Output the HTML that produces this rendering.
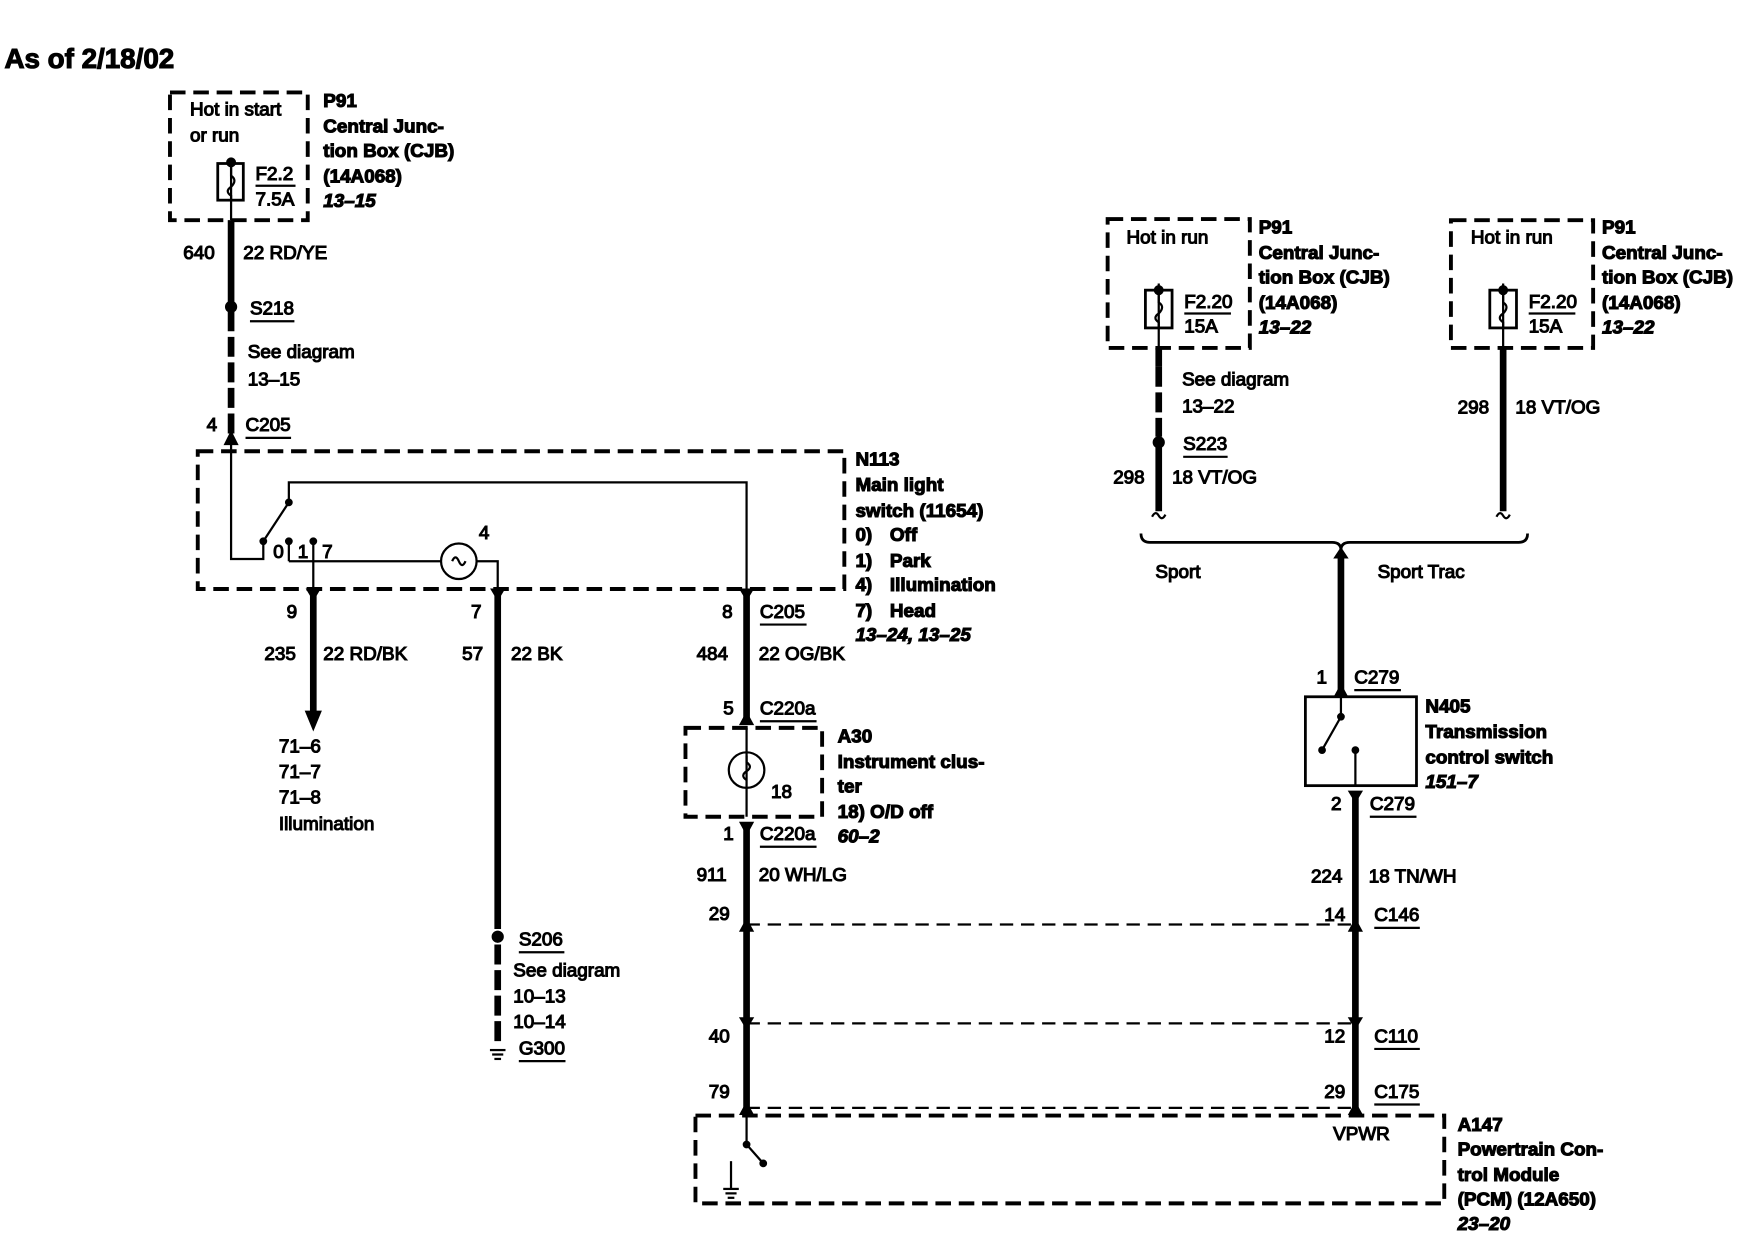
<!DOCTYPE html>
<html><head><meta charset="utf-8"><style>
html,body{margin:0;padding:0;background:#fff;}
svg{display:block;}
text{font-family:"Liberation Sans Narrow","Liberation Sans",sans-serif;font-size:17px;fill:#000;}
.b{font-weight:bold;}
.i{font-weight:bold;font-style:italic;}
</style></head><body>
<svg width="1742" height="1248" viewBox="0 0 1568 1123" xmlns="http://www.w3.org/2000/svg">
<g stroke="#000" fill="none">
<g stroke-width="3.5" stroke-dasharray="14,7">
<rect x="153" y="83" width="124" height="115"/>
<rect x="178" y="406" width="582" height="124"/>
<rect x="617" y="655" width="123" height="80"/>
<rect x="997" y="197" width="128" height="116"/>
<rect x="1306" y="198" width="128" height="115"/>
<rect x="626" y="1004" width="674" height="79"/>
</g>
<g stroke-width="2" stroke-dasharray="12,7">
<line x1="672" y1="832" x2="1220" y2="832"/>
<line x1="672" y1="921" x2="1220" y2="921"/>
<line x1="672" y1="997" x2="1220" y2="997"/>
</g>
<g stroke-width="6">
<line x1="208" y1="198" x2="208" y2="272"/>
<line x1="208" y1="280" x2="208" y2="395" stroke-dasharray="18,5"/>
<line x1="282" y1="530" x2="282" y2="640"/>
<line x1="448" y1="530" x2="448" y2="836"/>
<line x1="448" y1="850" x2="448" y2="938" stroke-dasharray="18,5"/>
<line x1="672" y1="530" x2="672" y2="648"/>
<line x1="672" y1="740" x2="672" y2="1000"/>
<line x1="1043" y1="313" x2="1043" y2="330"/>
<line x1="1043" y1="330" x2="1043" y2="393" stroke-dasharray="18,5"/>
<line x1="1043" y1="402" x2="1043" y2="460"/>
<line x1="1353" y1="313" x2="1353" y2="460"/>
<line x1="1207" y1="497" x2="1207" y2="622"/>
<line x1="1220" y1="712" x2="1220" y2="1000"/>
</g>
<g stroke-width="2">
<line x1="208" y1="143" x2="208" y2="198"/>
<rect x="196" y="147" width="23" height="33" stroke-width="2.5"/>
<path d="M208 150 v8 q6 4 0 10 q-6 4 0 8 v4"/>
<line x1="230" y1="167" x2="266" y2="167"/>
<polyline points="208,395 208,503 237,503 237,487"/>
<line x1="237" y1="487" x2="260" y2="452"/>
<polyline points="260,452 260,434 672,434 672,530"/>
<polyline points="260,505 260,487"/>
<polyline points="282,487 282,530"/>
<line x1="260" y1="505" x2="397" y2="505"/>
<circle cx="413" cy="505" r="16"/>
<path d="M407 505 q3 -7 6 0 q3 7 6 0"/>
<polyline points="429,505 448,505 448,530"/>
<line x1="672" y1="655" x2="672" y2="735"/>
<circle cx="672" cy="693" r="16"/>
<path d="M672 680 v6 q6 4 0 8 q-6 4 0 8"/>
<line x1="1043" y1="255" x2="1043" y2="313"/>
<rect x="1031" y="261" width="24" height="34" stroke-width="2.5"/>
<path d="M1043 264 v8 q6 4 0 10 q-6 4 0 8 v4"/>
<line x1="1066" y1="282" x2="1108" y2="282"/>
<line x1="1353" y1="255" x2="1353" y2="313"/>
<rect x="1341" y="261" width="24" height="34" stroke-width="2.5"/>
<path d="M1353 264 v8 q6 4 0 10 q-6 4 0 8 v4"/>
<line x1="1376" y1="282" x2="1418" y2="282"/>
<rect x="1175" y="627" width="100" height="80" stroke-width="2.5"/>
<polyline points="1207,627 1207,645 1190,675"/>
<polyline points="1220,675 1220,707"/>
<polyline points="672,1000 672,1030 687,1047"/>
<line x1="658" y1="1045" x2="658" y2="1070"/>
<line x1="651" y1="1070" x2="665" y2="1070"/>
<line x1="653" y1="1074" x2="663" y2="1074"/>
<line x1="655" y1="1078" x2="661" y2="1078"/>
<line x1="441" y1="945" x2="455" y2="945"/>
<line x1="443" y1="949" x2="453" y2="949"/>
<line x1="445" y1="953" x2="451" y2="953"/>
<path d="M1027 480 q0 8 8 8 h164 q8 0 8 7 q0 -7 8 -7 h152 q8 0 8 -8" stroke-width="2.5"/>
<line x1="225" y1="289" x2="265" y2="289"/>
<line x1="221" y1="394" x2="262" y2="394"/>
<line x1="684" y1="562" x2="726" y2="562"/>
<line x1="684" y1="649" x2="735" y2="649"/>
<line x1="684" y1="762" x2="735" y2="762"/>
<line x1="467" y1="857" x2="508" y2="857"/>
<line x1="467" y1="955" x2="509" y2="955"/>
<line x1="1065" y1="411" x2="1105" y2="411"/>
<line x1="1219" y1="621" x2="1261" y2="621"/>
<line x1="1233" y1="735" x2="1275" y2="735"/>
<line x1="1237" y1="835" x2="1278" y2="835"/>
<line x1="1237" y1="944" x2="1278" y2="944"/>
<line x1="1237" y1="994" x2="1278" y2="994"/>
<path d="M1037 465 q3 -6 6 -1 q3 5 6 -1"/>
<path d="M1347 465 q3 -6 6 -1 q3 5 6 -1"/>
</g>
<g fill="#000">
<circle cx="208" cy="146" r="4"/>
<circle cx="1043" cy="261" r="4"/>
<circle cx="1353" cy="261" r="4"/>
<circle cx="208" cy="276" r="5"/>
<circle cx="1043" cy="398" r="5"/>
<circle cx="448" cy="843" r="5"/>
<circle cx="237" cy="487" r="3"/><circle cx="260" cy="452" r="3"/>
<circle cx="260" cy="487" r="3"/><circle cx="282" cy="487" r="3"/>
<circle cx="1207" cy="645" r="3"/><circle cx="1190" cy="675" r="3"/><circle cx="1220" cy="675" r="3"/>
<circle cx="672" cy="1030" r="3"/><circle cx="687" cy="1047" r="3"/>
<polygon points="202,400 208,388 214,400"/>
<polygon points="275,640 289,640 282,657"/>
<polygon points="666,652 672,641 678,652"/>
<polygon points="666,740 678,740 672,751"/>
<polygon points="276,530 288,530 282,540"/>
<polygon points="442,530 454,530 448,540"/>
<polygon points="666,530 678,530 672,540"/>
<polygon points="1201,627 1207,616 1213,627"/>
<polygon points="1214,712 1226,712 1220,722"/>
<polygon points="666,838 672,827 678,838"/>
<polygon points="1214,838 1220,827 1226,838"/>
<polygon points="666,916 678,916 672,926"/>
<polygon points="1214,916 1226,916 1220,926"/>
<polygon points="666,1003 672,992 678,1003"/>
<polygon points="1214,1003 1220,992 1226,1003"/>
<polygon points="1201,502 1207,493 1213,502"/>
</g>
<text x="4" y="61" class="b" style="font-size:25px;font-family:'Liberation Sans',sans-serif">As of 2/18/02</text>
<text x="171" y="104">Hot in start</text><text x="171" y="127">or run</text>
<text x="230" y="162">F2.2</text><text x="230" y="185">7.5A</text>
<text x="291" y="96" class="b">P91</text><text x="291" y="119" class="b">Central Junc-</text>
<text x="291" y="141" class="b">tion Box (CJB)</text><text x="291" y="164" class="b">(14A068)</text>
<text x="291" y="186" class="i">13–15</text>
<text x="165" y="233">640</text><text x="219" y="233">22 RD/YE</text>
<text x="225" y="283">S218</text><text x="223" y="322">See diagram</text><text x="223" y="347">13–15</text>
<text x="186" y="388">4</text><text x="221" y="388">C205</text>
<text x="246" y="502">0</text><text x="268" y="502">1</text><text x="290" y="502">7</text>
<text x="431" y="485">4</text>
<text x="770" y="419" class="b">N113</text><text x="770" y="442" class="b">Main light</text>
<text x="770" y="465" class="b">switch (11654)</text>
<text x="770" y="487" class="b">0)</text><text x="801" y="487" class="b">Off</text>
<text x="770" y="510" class="b">1)</text><text x="801" y="510" class="b">Park</text>
<text x="770" y="532" class="b">4)</text><text x="801" y="532" class="b">Illumination</text>
<text x="770" y="555" class="b">7)</text><text x="801" y="555" class="b">Head</text>
<text x="770" y="577" class="i">13–24, 13–25</text>
<text x="258" y="556">9</text><text x="424" y="556">7</text><text x="650" y="556">8</text><text x="684" y="556">C205</text>
<text x="238" y="594">235</text><text x="291" y="594">22 RD/BK</text>
<text x="416" y="594">57</text><text x="460" y="594">22 BK</text>
<text x="627" y="594">484</text><text x="683" y="594">22 OG/BK</text>
<text x="251" y="677">71–6</text><text x="251" y="700">71–7</text><text x="251" y="723">71–8</text><text x="251" y="747">Illumination</text>
<text x="651" y="643">5</text><text x="684" y="643">C220a</text>
<text x="694" y="718">18</text>
<text x="754" y="668" class="b">A30</text><text x="754" y="691" class="b">Instrument clus-</text>
<text x="754" y="713" class="b">ter</text><text x="754" y="736" class="b">18) O/D off</text>
<text x="754" y="758" class="i">60–2</text>
<text x="651" y="756">1</text><text x="684" y="756">C220a</text>
<text x="627" y="793">911</text><text x="683" y="793">20 WH/LG</text>
<text x="638" y="828">29</text><text x="638" y="938">40</text><text x="638" y="988">79</text>
<text x="467" y="851">S206</text><text x="462" y="879">See diagram</text>
<text x="462" y="902">10–13</text><text x="462" y="925">10–14</text><text x="467" y="949">G300</text>
<text x="1014" y="219">Hot in run</text>
<text x="1066" y="277">F2.20</text><text x="1066" y="299">15A</text>
<text x="1133" y="210" class="b">P91</text><text x="1133" y="233" class="b">Central Junc-</text>
<text x="1133" y="255" class="b">tion Box (CJB)</text><text x="1133" y="278" class="b">(14A068)</text>
<text x="1133" y="300" class="i">13–22</text>
<text x="1064" y="347">See diagram</text><text x="1064" y="371">13–22</text>
<text x="1065" y="405">S223</text>
<text x="1002" y="435">298</text><text x="1055" y="435">18 VT/OG</text>
<text x="1324" y="219">Hot in run</text>
<text x="1376" y="277">F2.20</text><text x="1376" y="299">15A</text>
<text x="1442" y="210" class="b">P91</text><text x="1442" y="233" class="b">Central Junc-</text>
<text x="1442" y="255" class="b">tion Box (CJB)</text><text x="1442" y="278" class="b">(14A068)</text>
<text x="1442" y="300" class="i">13–22</text>
<text x="1312" y="372">298</text><text x="1364" y="372">18 VT/OG</text>
<text x="1040" y="520">Sport</text><text x="1240" y="520">Sport Trac</text>
<text x="1185" y="615">1</text><text x="1219" y="615">C279</text>
<text x="1283" y="641" class="b">N405</text><text x="1283" y="664" class="b">Transmission</text>
<text x="1283" y="687" class="b">control switch</text><text x="1283" y="709" class="i">151–7</text>
<text x="1198" y="729">2</text><text x="1233" y="729">C279</text>
<text x="1180" y="794">224</text><text x="1232" y="794">18 TN/WH</text>
<text x="1192" y="829">14</text><text x="1237" y="829">C146</text>
<text x="1192" y="938">12</text><text x="1237" y="938">C110</text>
<text x="1192" y="988">29</text><text x="1237" y="988">C175</text>
<text x="1200" y="1026">VPWR</text>
<text x="1312" y="1018" class="b">A147</text><text x="1312" y="1040" class="b">Powertrain Con-</text>
<text x="1312" y="1063" class="b">trol Module</text><text x="1312" y="1085" class="b">(PCM) (12A650)</text>
<text x="1312" y="1107" class="i">23–20</text>
</svg>
</body></html>
